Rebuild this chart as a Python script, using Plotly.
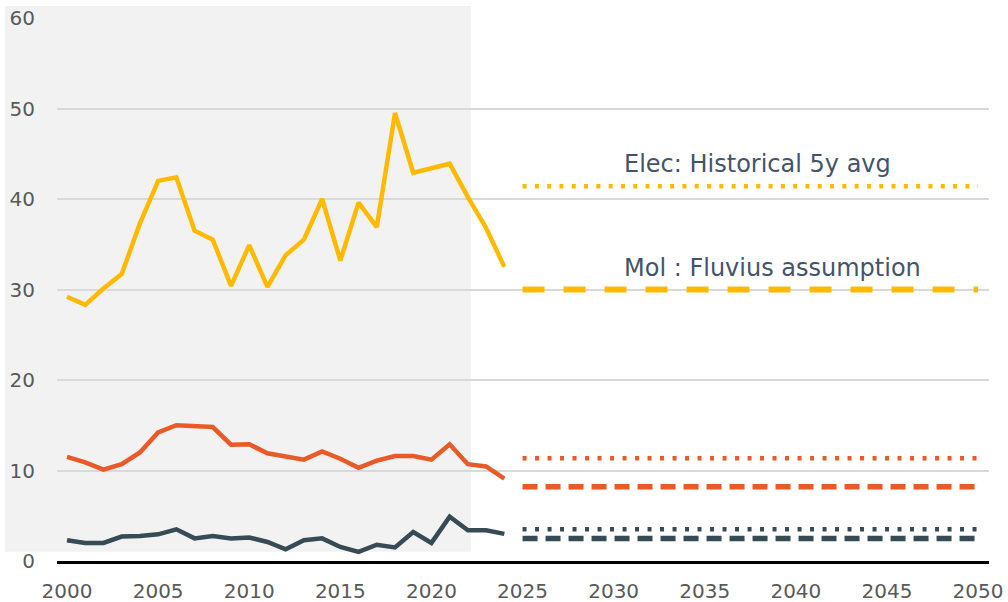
import plotly.graph_objects as go

years = list(range(2000, 2025))
elec = [29.2, 28.3, 30.1, 31.7, 37.3, 42.0, 42.4, 36.5, 35.5, 30.4, 34.9, 30.3, 33.8, 35.5,
        40.0, 33.2, 39.6, 36.9, 49.5, 42.9, 43.4, 43.9, 40.2, 36.8, 32.5]
red = [11.5, 10.9, 10.1, 10.7, 12.0, 14.2, 15.0, 14.95, 14.8, 12.85, 12.9, 11.9, 11.6, 11.2,
       12.1, 11.3, 10.3, 11.1, 11.6, 11.6, 11.2, 12.9, 10.7, 10.45, 9.1]
dark = [2.3, 2.0, 2.0, 2.7, 2.75, 2.95, 3.5, 2.5, 2.75, 2.5, 2.6, 2.1, 1.3, 2.3,
        2.5, 1.55, 1.0, 1.8, 1.5, 3.2, 2.0, 4.9, 3.4, 3.4, 3.0]

proj_years = [2025, 2050]
elec_hist_avg = 41.4
elec_fluvius = 30.0
red_hist_avg = 11.35
red_fluvius = 8.2
dark_hist_avg = 3.5
dark_fluvius = 2.5

YELLOW = "#FFBA00"
RED = "#EA5A28"
DARK = "#374B55"

fig = go.Figure()

# historical lines
for vals, col in [(elec, YELLOW), (red, RED), (dark, DARK)]:
    fig.add_trace(go.Scatter(x=years, y=vals, mode="lines",
                             line=dict(color=col, width=4.5), showlegend=False))

# projections: dotted = historical 5y avg, dashed = Fluvius assumption
fig.add_trace(go.Scatter(x=proj_years, y=[elec_hist_avg] * 2, mode="lines",
                         line=dict(color=YELLOW, width=4.5, dash="4px,8.3px"), showlegend=False))
fig.add_trace(go.Scatter(x=proj_years, y=[elec_fluvius] * 2, mode="lines",
                         line=dict(color=YELLOW, width=6, dash="22px,19px"), showlegend=False))
fig.add_trace(go.Scatter(x=proj_years, y=[red_hist_avg] * 2, mode="lines",
                         line=dict(color=RED, width=4.5, dash="4px,8.5px"), showlegend=False))
fig.add_trace(go.Scatter(x=proj_years, y=[red_fluvius] * 2, mode="lines",
                         line=dict(color=RED, width=5.5, dash="15px,8px"), showlegend=False))
fig.add_trace(go.Scatter(x=proj_years, y=[dark_hist_avg] * 2, mode="lines",
                         line=dict(color=DARK, width=4.5, dash="4px,8.5px"), showlegend=False))
fig.add_trace(go.Scatter(x=proj_years, y=[dark_fluvius] * 2, mode="lines",
                         line=dict(color=DARK, width=5.5, dash="15px,8px"), showlegend=False))

# shaded historical area
fig.add_shape(type="rect", xref="paper", yref="paper", x0=-0.056, x1=0.444, y0=0.017, y1=1.022,
              fillcolor="#F2F2F2", line=dict(width=0), layer="below")

fig.add_annotation(x=2030.45, y=43.9, text="Elec: Historical 5y avg", showarrow=False,
                   xanchor="left", font=dict(family="DejaVu Sans", size=24, color="#44546A"))
fig.add_annotation(x=2030.45, y=32.4, text="Mol : Fluvius assumption", showarrow=False,
                   xanchor="left", font=dict(family="DejaVu Sans", size=24, color="#44546A"))

fig.update_layout(
    width=1008, height=602,
    margin=dict(l=57, r=19, t=18, b=41),
    paper_bgcolor="white", plot_bgcolor="rgba(0,0,0,0)",
    font=dict(family="DejaVu Sans", size=20, color="#595959"),
    xaxis=dict(range=[1999.45, 2050.6], tickvals=list(range(2000, 2051, 5)), showgrid=False,
               zeroline=False, showline=True, linecolor="black", linewidth=3,
               ticks="", ticklabelstandoff=10, automargin=False),
    yaxis=dict(range=[0, 60], tickvals=list(range(0, 61, 10)), showgrid=True,
               gridcolor="#D9D9D9", gridwidth=1.5, zeroline=False, ticks="",
               ticklabelstandoff=21, automargin=False),
)

# remove default page margin so the figure fills the window
fig.write_html("out.html", config={"displayModeBar": False},
               post_script="document.body.style.margin='0px';")
